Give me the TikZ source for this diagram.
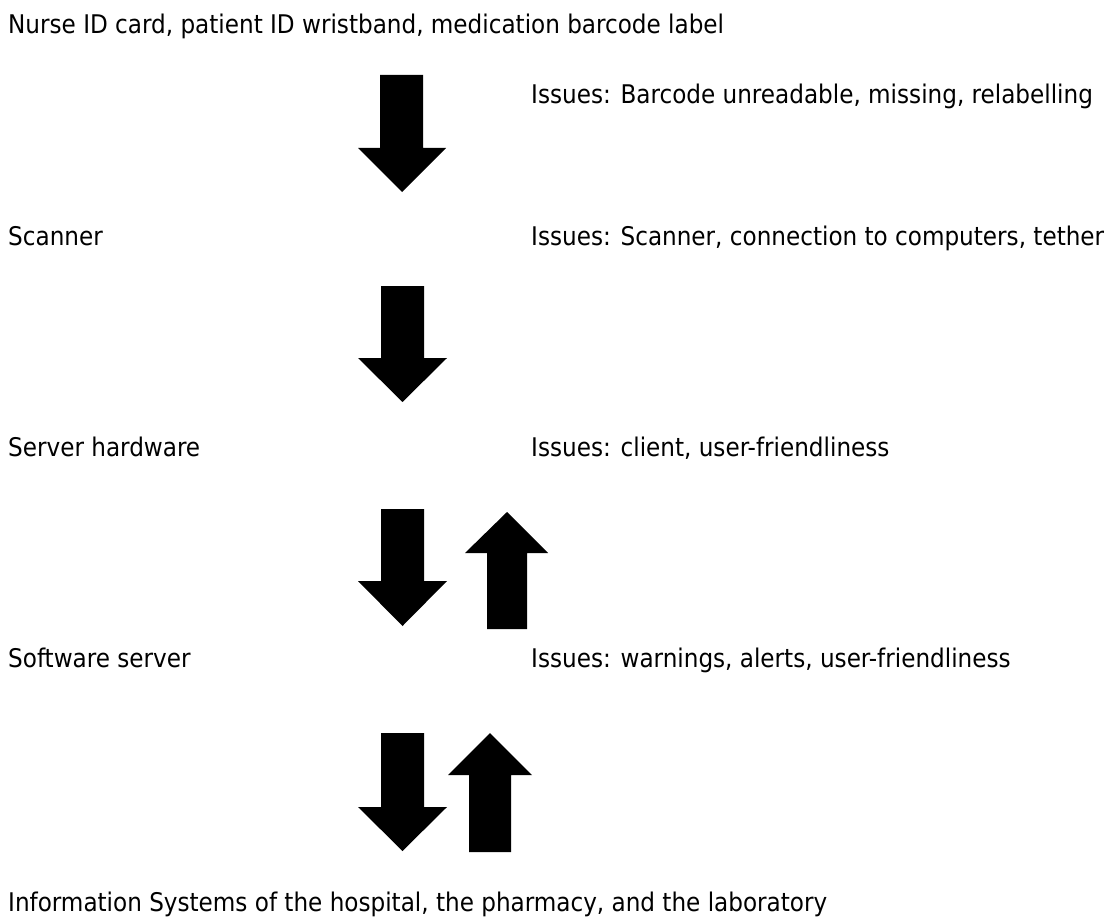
\documentclass[tikz,border=0pt]{standalone}
\usepackage{fontspec}
\setmainfont{DejaVu Sans Condensed}
\begin{document}
\begin{tikzpicture}[x=1pt,y=-1pt,
  lbl/.style={anchor=base west,inner sep=0pt,font=\fontsize{25.7}{30}\selectfont},
  blk/.style={fill=black,draw=none}]
\useasboundingbox (0,0) rectangle (1115,920);
% labels
\node[lbl] (src)  at (8,34)   {Nurse ID card, patient ID wristband, medication barcode label};
\node[lbl] (i1)   at (531,104) {Issues: Barcode unreadable, missing, relabelling};
\node[lbl] (scan) at (8,245)  {Scanner};
\node[lbl] (i2)   at (531,245) {Issues: Scanner, connection to computers, tether};
\node[lbl] (hw)   at (8,456)  {Server hardware};
\node[lbl] (i3)   at (531,456) {Issues: client, user-friendliness};
\node[lbl] (sw)   at (8,667)  {Software server};
\node[lbl] (i4)   at (531,667) {Issues: warnings, alerts, user-friendliness};
\node[lbl] (is)   at (8,911)  {Information Systems of the hospital, the pharmacy, and the laboratory};
% block arrows (down)
\fill[blk] (380,75) -- (423,75) -- (423,148) -- (446,148) -- (402,192) -- (358,148) -- (380,148) -- cycle;
\fill[blk] (381,286) -- (424,286) -- (424,358) -- (447,358) -- (402.5,402) -- (358,358) -- (381,358) -- cycle;
\fill[blk] (381,509) -- (424,509) -- (424,581) -- (447,581) -- (402.5,626) -- (358,581) -- (381,581) -- cycle;
\fill[blk] (381,733) -- (424,733) -- (424,807) -- (447,807) -- (402.5,851) -- (358,807) -- (381,807) -- cycle;
% block arrows (up)
\fill[blk] (487,629) -- (527,629) -- (527,553) -- (548,553) -- (507,512) -- (465,553) -- (487,553) -- cycle;
\fill[blk] (469,852) -- (511,852) -- (511,775) -- (532,775) -- (490,733) -- (448,775) -- (469,775) -- cycle;
\end{tikzpicture}
\end{document}
